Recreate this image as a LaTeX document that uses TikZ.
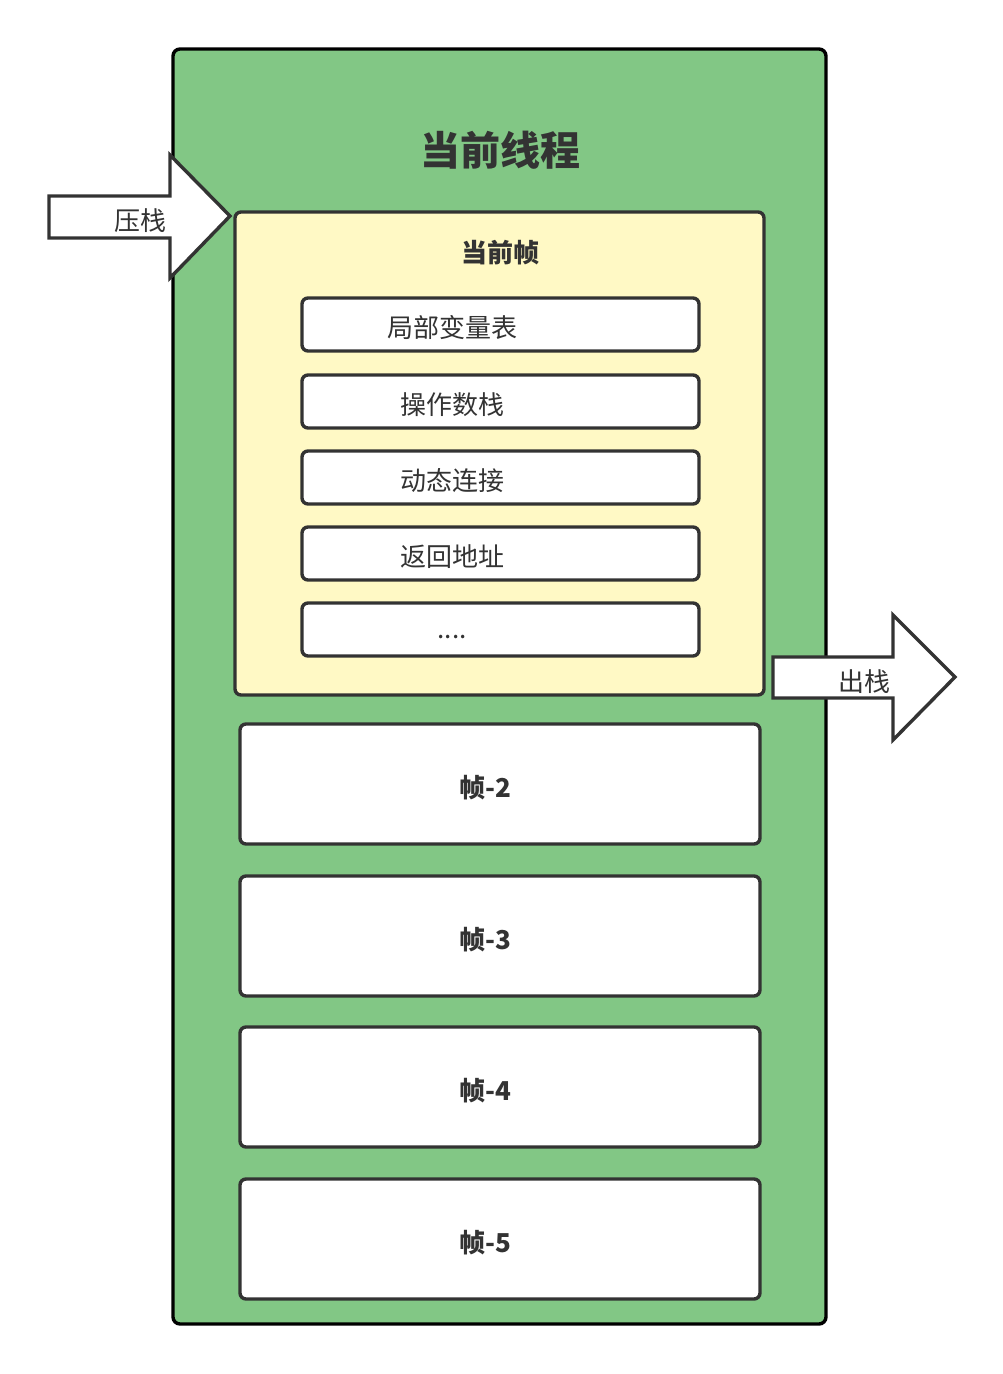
\documentclass[tikz,border=0pt]{standalone}
\usepackage{fontspec}
\newfontfamily\cjk{Noto Sans CJK SC}
\setmainfont{Noto Sans CJK SC}
\definecolor{thread}{HTML}{82C785}
\definecolor{framey}{HTML}{FFF9C5}
\definecolor{ink}{HTML}{333333}
\begin{document}
\begin{tikzpicture}[x=1pt,y=-1pt,
  box/.style={draw=ink,line width=3.4pt,rounded corners=6pt,fill=white},
  lbl/.style={text=ink,font=\cjk\fontsize{26}{29}\selectfont,inner sep=0pt},
  blbl/.style={text=ink,font=\cjk\bfseries\fontsize{26}{29}\selectfont,inner sep=0pt},
  arr/.style={draw=ink,line width=3.4pt,fill=white,line join=miter}]
\useasboundingbox (0,0) rectangle (1003,1374);
% thread
\draw[draw=black,line width=3.4pt,rounded corners=7pt,fill=thread] (173,49) rectangle (826,1324);
\node[blbl,font=\cjk\bfseries\fontsize{40}{44}\selectfont] (title) at (500,150) {当前线程};
% current frame
\draw[draw=ink,line width=3.4pt,rounded corners=6pt,fill=framey] (235,212) rectangle (764,695);
\node[blbl] (cur) at (500,253) {当前帧};
\foreach \y in {298,375,451,527,603}{
  \draw[box] (302,\y) rectangle (699,\y+53);
}
\node[lbl] (ta) at (452,328) {局部变量表};
\node[lbl] (tb) at (452,405) {操作数栈};
\node[lbl] (tc) at (452,481) {动态连接};
\node[lbl] (td) at (452,557) {返回地址};
\node[lbl] (te) at (452,637) {....};
% frames
\foreach \y/\t in {724/2,876/3,1027/4,1179/5}{
  \draw[box] (240,\y) rectangle (760,\y+120);
  \node[blbl] at (485,\y+64) {帧-\t};
}
% push arrow
\draw[arr] (49,196) -- (170,196) -- (170,155) -- (230,216) -- (170,278) -- (170,238) -- (49,238) -- cycle;
\node[lbl] (push) at (140,221) {压栈};
% pop arrow
\draw[arr] (773,657) -- (893,657) -- (893,615) -- (955,677) -- (893,740) -- (893,698) -- (773,698) -- cycle;
\node[lbl] (pop) at (864,682) {出栈};
\end{tikzpicture}
\end{document}
